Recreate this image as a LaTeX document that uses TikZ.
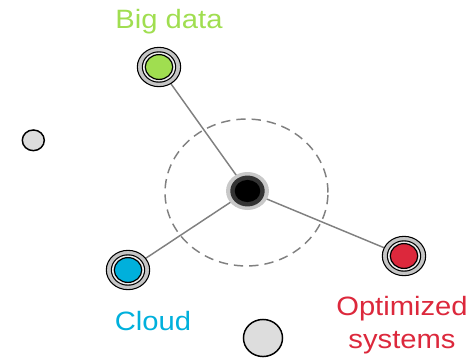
\documentclass[tikz,border=0pt]{standalone}
\usepackage{fontspec}
\setmainfont[FakeStretch=1.1]{Liberation Sans}
\usetikzlibrary{shapes.geometric}

\definecolor{datagreen}{RGB}{160,222,80}
\definecolor{cloudblue}{RGB}{0,176,220}
\definecolor{optred}{RGB}{220,40,60}
\definecolor{linkgray}{RGB}{128,128,128}
\definecolor{halogray}{RGB}{200,200,200}
\definecolor{ringgray}{RGB}{51,51,51}
\definecolor{dotgray}{RGB}{221,221,221}

\pgfdeclarelayer{background}
\pgfsetlayers{background,main}

\tikzset{
  % coloured satellite with concentric rings
  hub/.style={ellipse, inner sep=0pt, minimum width=32.5pt, minimum height=29.5pt,
    draw=black, line width=0.8pt, fill=gray!45,
    path picture={
      \fill[black] (path picture bounding box.center) ellipse [x radius=12.9pt, y radius=11.8pt];
      \fill[gray!15] (path picture bounding box.center) ellipse [x radius=12.0pt, y radius=10.9pt];
      \filldraw[fill=#1, draw=black, line width=0.9pt] (path picture bounding box.center)
        ellipse [x radius=10.3pt, y radius=9.3pt];
    }},
  % central hub
  core/.style={ellipse, inner sep=0pt, minimum width=32.2pt, minimum height=28.5pt,
    fill=halogray,
    path picture={
      \fill[ringgray] (path picture bounding box.center) ellipse [x radius=12.9pt, y radius=11.6pt];
      \fill[black] (path picture bounding box.center) ellipse [x radius=9.6pt, y radius=8.3pt];
    }},
  dot/.style={ellipse, inner sep=0pt, draw=black, line width=1.1pt, fill=dotgray},
  link/.style={draw=linkgray, line width=1.1pt},
  orbit/.style={draw=linkgray, line width=1.1pt, dash pattern=on 7pt off 4.5pt},
  label/.style={inner sep=0pt, font=\fontsize{19.9pt}{24.6pt}\selectfont, align=center}
}

\begin{document}
\begin{tikzpicture}[x=0.75pt, y=-0.75pt]
  \useasboundingbox (0,0) rectangle (476,358);

  % dashed orbit round the centre
  \draw[orbit] (246.5,192.5) ellipse [x radius=61.1pt, y radius=55.1pt];

  % nodes
  \node[core] (core) at (247.5,191) {};
  \node[hub=datagreen] (big) at (159,67) {};
  \node[hub=cloudblue] (cloud) at (128,270) {};
  \node[hub=optred] (opt) at (404,256) {};
  \node[dot, minimum width=16.5pt, minimum height=15.5pt] (dotleft) at (33.3,140.3) {};
  \node[dot, minimum width=29.3pt, minimum height=27.8pt] (dotbottom) at (263,338) {};

  % spokes, behind the nodes
  \begin{pgfonlayer}{background}
    \draw[link] (core.center) -- (big.center);
    \draw[link] (core.center) -- (cloud.center);
    \draw[link] (core.center) -- (opt.center);
  \end{pgfonlayer}

  % labels
  \node[label, text=datagreen, anchor=base] (bigtext) at (169,28) {Big data};
  \node[label, text=cloudblue, anchor=base] (cloudtext) at (153,330.7) {Cloud};
  \node[label, text=optred, anchor=north] (opttext) at (402,296) {Optimized\\systems};
\end{tikzpicture}
\end{document}
